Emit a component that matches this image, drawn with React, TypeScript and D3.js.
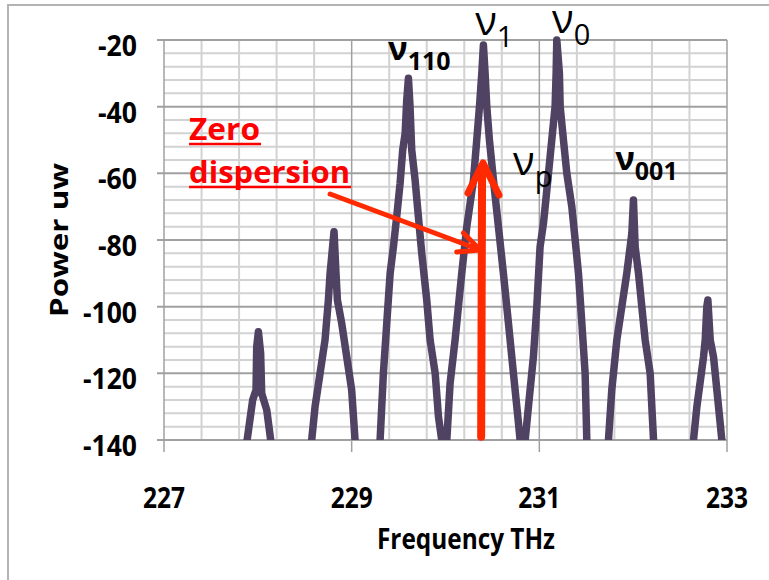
import React from 'react';
import * as d3 from 'd3';

// spectrum trace (THz, power)
const freq = [
  227.84, 227.881, 227.945, 227.981, 227.988, 228.006, 228.03, 228.041, 228.095, 228.137,
  228.36,
  228.574, 228.61, 228.663, 228.716, 228.752, 228.77, 228.787, 228.812, 228.833, 228.848, 228.894, 228.947, 229.0, 229.036,
  229.17,
  229.303, 229.338, 229.374, 229.41, 229.445, 229.48, 229.516, 229.544, 229.57, 229.587, 229.605, 229.622, 229.64, 229.676, 229.711, 229.747, 229.8, 229.836, 229.89, 229.925, 229.96,
  229.985,
  230.014, 230.049, 230.102, 230.173, 230.227, 230.298, 230.333, 230.362, 230.387, 230.404, 230.422, 230.44, 230.468, 230.511, 230.564, 230.617, 230.671, 230.724, 230.778, 230.795,
  230.82,
  230.849, 230.884, 230.937, 230.973, 231.008, 231.044, 231.08, 231.115, 231.15, 231.168, 231.179, 231.186, 231.214, 231.222, 231.257, 231.293, 231.346, 231.382, 231.417, 231.453, 231.488, 231.506,
  231.62,
  231.737, 231.772, 231.826, 231.879, 231.932, 231.968, 231.986, 232.003, 232.021, 232.057, 232.092, 232.128, 232.181, 232.217,
  232.43,
  232.643, 232.679, 232.75, 232.768, 232.785, 232.796, 232.821, 232.856, 232.892, 232.945,
  232.97,
];
const power = [
  -150, -141, -128, -125, -112, -107.5, -114, -126, -131, -140,
  -165,
  -140, -130, -120, -110, -98, -90, -85, -77.5, -90, -98, -105, -115, -125, -140,
  -160,
  -140, -120, -105, -90, -82, -73, -63, -53, -48, -38, -31.5, -40, -53, -62, -73, -84, -98, -110, -120, -133, -140,
  -143,
  -140, -123, -110, -90, -76, -62, -50, -40, -30, -21.5, -30, -40, -50, -62, -76, -90, -105, -120, -135, -140,
  -143,
  -140, -130, -115, -100, -82, -75, -65, -55, -45, -40, -30, -20, -30, -40, -50, -60, -70, -80, -90, -105, -120, -140,
  -160,
  -140, -125, -110, -100, -90, -82, -78, -68, -82, -90, -100, -110, -120, -140,
  -165,
  -140, -130, -115, -110, -100, -98, -110, -115, -125, -140,
  -150,
];

const xTicks = [227, 229, 231, 233];
const yTicks = [-20, -40, -60, -80, -100, -120, -140];

const peakLabels = [
  { base: 'ν', sub: '110', f: 229.388, p: -26, bold: true },
  { base: 'ν', sub: '1', f: 230.316, p: -18.5, bold: false },
  { base: 'ν', sub: '0', f: 231.136, p: -17.9, bold: false },
  { base: 'ν', sub: 'p', f: 230.72, p: -60.5, bold: false },
  { base: 'ν', sub: '001', f: 231.808, p: -59, bold: true },
];

const noteLines = ['Zero', 'dispersion'];
const noteWidths = [71, 161];

const FONT = '"Open Sans", "DejaVu Sans", sans-serif';
const LINE = '#4f4263';
const ARROW = '#ff2a00';

export default function App() {
  const x = d3.scaleLinear().domain([227, 233]).range([164, 727]);
  const y = d3.scaleLinear().domain([-140, -20]).range([440, 40]);

  const pts = freq.map((f, i) => [f, power[i]] as [number, number]);
  const line = d3.line<[number, number]>().x(d => x(d[0])).y(d => y(d[1]));

  const minorX = d3.range(227, 233.001, 0.4).filter(v => Math.abs(v - Math.round(v)) > 0.01 || Math.round(v) % 2 === 0);
  const minorY = d3.range(-140, -19, 4).filter(v => v % 20 !== 0);

  const [x0, x1] = x.range();
  const [yb, yt] = y.range();

  return (
    <svg width={769} height={580} style={{ position: 'absolute', left: 0, top: 0, background: '#fff' }}>
      <defs>
        <clipPath id="plotClip">
          <rect x={x0} y={0} width={x1 - x0 + 4} height={yb} />
        </clipPath>
      </defs>
      <rect x={8} y={5} width={800} height={620} fill="#fff" stroke="#b3b3b3" strokeWidth={2} />

      {/* grid */}
      {minorX.map(v => (
        <line key={'mx' + v} x1={x(v)} x2={x(v)} y1={yt} y2={yb} stroke="#d2d2d2" strokeWidth={2} />
      ))}
      {minorY.map(v => (
        <line key={'my' + v} x1={x0} x2={x1} y1={y(v)} y2={y(v)} stroke="#d2d2d2" strokeWidth={2} />
      ))}
      {xTicks.map(v => (
        <line key={'gx' + v} x1={x(v)} x2={x(v)} y1={yt} y2={yb + 12} stroke="#a0a0a0" strokeWidth={1.5} />
      ))}
      {yTicks.map(v => (
        <line key={'gy' + v} x1={x0 - 7} x2={x1} y1={y(v)} y2={y(v)} stroke="#a0a0a0" strokeWidth={2} />
      ))}

      {/* tick labels */}
      {yTicks.map(v => (
        <text key={'ly' + v} x={137} y={y(v) + 16} textAnchor="end" fontFamily={FONT} fontWeight={700} fontSize={28}
          textLength={9 + 15 * (String(v).length - 1)} lengthAdjust="spacingAndGlyphs" fill="#000">
          {v}
        </text>
      ))}
      {xTicks.map(v => (
        <text key={'lx' + v} x={x(v)} y={508} textAnchor="middle" fontFamily={FONT} fontWeight={700} fontSize={28}
          textLength={42} lengthAdjust="spacingAndGlyphs" fill="#000">
          {v}
        </text>
      ))}

      {/* axis titles */}
      <text x={466} y={549} textAnchor="middle" fontFamily={FONT} fontWeight={700} fontSize={28} textLength={178} lengthAdjust="spacingAndGlyphs">
        Frequency THz
      </text>
      <text transform="translate(68,240) rotate(-90)" textAnchor="middle" fontFamily={FONT} fontWeight={700} fontSize={25} textLength={154} lengthAdjust="spacingAndGlyphs">
        Power uw
      </text>

      {/* spectrum */}
      <path d={line(pts) || ''} clipPath="url(#plotClip)" fill="none" stroke={LINE} strokeWidth={7.5} strokeLinejoin="round" strokeLinecap="round" />

      {/* peak labels */}
      {peakLabels.map(l => (
        <text key={l.sub} x={x(l.f)} y={y(l.p)} fontFamily={FONT} fontWeight={l.bold ? 700 : 400} fill="#000">
          <tspan fontSize={l.bold ? 33 : 40}>{l.base}</tspan>
          <tspan fontSize={l.bold ? 25 : 29} dy={l.bold ? 10 : 12}>{l.sub}</tspan>
        </text>
      ))}

      {/* zero dispersion note */}
      {noteLines.map((t, i) => (
        <g key={t}>
          <text x={x(227.267)} y={y(-50 - i * 12.9)} fontFamily={FONT} fontWeight={700} fontSize={31} fill="#ff0000"
            textLength={noteWidths[i]} lengthAdjust="spacingAndGlyphs">
            {t}
          </text>
          <line x1={x(227.267)} x2={x(227.267) + noteWidths[i] + 1} y1={y(-50 - i * 12.9) + 4} y2={y(-50 - i * 12.9) + 4}
            stroke="#ff0000" strokeWidth={2.5} />
        </g>
      ))}

      {/* arrows */}
      <g stroke={ARROW} fill="none" strokeLinecap="round" strokeLinejoin="round">
        <line x1={x(230.38)} x2={x(230.39)} y1={y(-139)} y2={y(-58)} strokeWidth={8} />
        <polyline points={[[230.24, -65.9], [230.4, -56.9], [230.57, -66.5]].map(d => `${x(d[0])},${y(d[1])}`).join(' ')} strokeWidth={7} />
        <line x1={x(228.77)} y1={y(-66.2)} x2={x(230.37)} y2={y(-83)} strokeWidth={5} />
        <polyline points={[[230.19, -77.9], [230.37, -83], [230.12, -83.6]].map(d => `${x(d[0])},${y(d[1])}`).join(' ')} strokeWidth={5} />
      </g>
    </svg>
  );
}
